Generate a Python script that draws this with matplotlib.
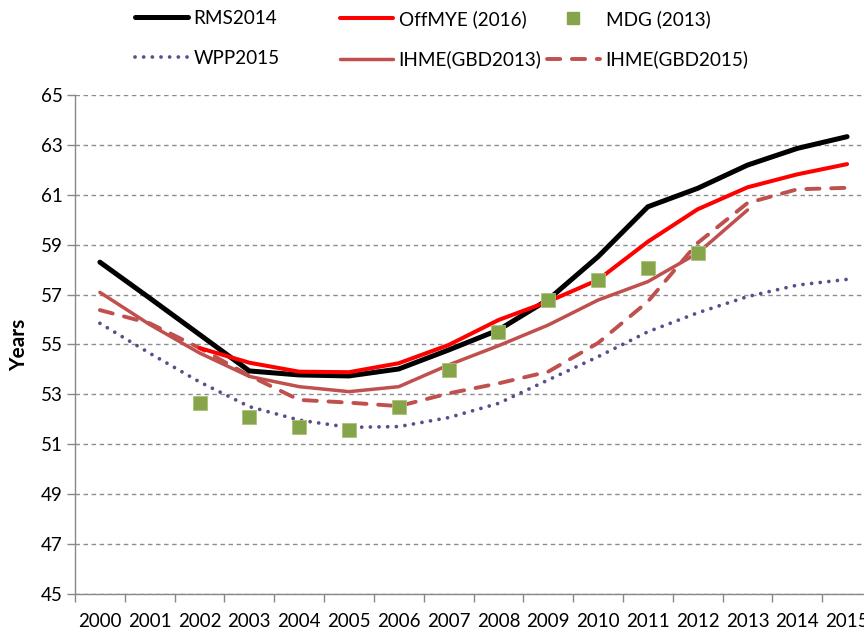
import matplotlib
matplotlib.use("Agg")
import matplotlib.pyplot as plt
from matplotlib.lines import Line2D

plt.rcParams['font.family'] = ['Lato', 'DejaVu Sans']

years = [str(y) for y in range(2000, 2016)]
rms2014 = [58.3, 56.86, 55.4, 53.94, 53.78, 53.74, 54.02, 54.78, 55.58, 56.8, 58.52, 60.52, 61.26, 62.19, 62.86, 63.33]
offmye_years = list(range(2, 16))
offmye = [54.86, 54.27, 53.91, 53.89, 54.25, 54.98, 55.98, 56.72, 57.59, 59.12, 60.42, 61.30, 61.82, 62.23]
mdg_years = list(range(2, 13))
mdg = [52.67, 52.08, 51.70, 51.57, 52.48, 53.98, 55.49, 56.78, 57.59, 58.08, 58.68]
wpp2015 = [55.85, 54.65, 53.5, 52.51, 51.97, 51.68, 51.71, 52.07, 52.64, 53.58, 54.51, 55.51, 56.27, 56.92, 57.38, 57.61]
gbd2013_years = list(range(0, 14))
gbd2013 = [57.09, 55.8, 54.66, 53.72, 53.31, 53.11, 53.31, 54.18, 54.95, 55.78, 56.78, 57.52, 58.66, 60.39]
gbd2015 = [56.38, 55.85, 54.86, 53.75, 52.78, 52.67, 52.53, 53.04, 53.44, 53.91, 55.06, 56.72, 59.07, 60.67, 61.22, 61.28]

x_all = list(range(len(years)))

fig = plt.figure(figsize=(8.64, 6.32), dpi=100)
ax = fig.add_axes([75/864, 38/632, 797/864, 499/632])

c_ihme = '#C0504D'
c_wpp = '#5F4B8B'
c_mdg = '#86A44A'
dot_style = (0, (0.01, 2.3))
dash_style = (0, (3.4, 3.0))

ax.plot(x_all, wpp2015, color=c_wpp, lw=2.7, linestyle=dot_style, dash_capstyle='round', zorder=3)
ax.plot(x_all, gbd2015, color=c_ihme, lw=2.8, linestyle=dash_style, dash_capstyle='round', zorder=3)
ax.plot(gbd2013_years, gbd2013, color=c_ihme, lw=2.5, zorder=4, solid_capstyle='round')
ax.plot(x_all, rms2014, color='black', lw=3.6, zorder=5, solid_capstyle='round')
ax.plot(offmye_years, offmye, color='#FF0000', lw=2.9, zorder=6, solid_capstyle='round')
ax.plot(mdg_years, mdg, linestyle='none', marker='s', markersize=10, color=c_mdg,
        markeredgecolor='#A9C27A', markeredgewidth=0.6, zorder=7)

ax.set_xlim(-0.5, 15.5)
ax.set_ylim(45, 65)
ax.set_yticks(range(45, 66, 2))
ax.set_xticks(x_all)
ax.set_xticklabels(years)
ax.set_xticks([i - 0.5 for i in range(17)], minor=True)
ax.tick_params(axis='x', which='major', length=0, pad=14, labelsize=13.5)
ax.tick_params(axis='x', which='minor', length=6, color='#888888', width=1)
ax.tick_params(axis='y', length=6, color='#888888', width=1, labelsize=13.5, pad=3)

ax.grid(axis='y', color='#8C8C8C', linestyle=(0, (3.2, 2.6)), lw=1.0)
ax.set_axisbelow(True)
for s in ['top', 'right']:
    ax.spines[s].set_visible(False)
for s in ['left', 'bottom']:
    ax.spines[s].set_color('#888888')
    ax.spines[s].set_linewidth(1.0)

ax.set_ylabel('Years', fontsize=15, fontweight='bold', labelpad=8)

h_rms = Line2D([], [], color='black', lw=3.6, solid_capstyle='round')
h_wpp = Line2D([], [], color=c_wpp, lw=2.7, linestyle=dot_style, dash_capstyle='round')
h_off = Line2D([], [], color='#FF0000', lw=2.9, solid_capstyle='round')
h_g13 = Line2D([], [], color=c_ihme, lw=2.5, solid_capstyle='round')
h_mdg = Line2D([], [], linestyle='none', marker='s', markersize=8, color=c_mdg)
h_g15 = Line2D([], [], color=c_ihme, lw=2.8, linestyle=dash_style, dash_capstyle='round')

leg_fs = 13.6
cols = [
    ([h_rms, h_wpp], ['RMS2014', 'WPP2015'], 135),
    ([h_off, h_g13], ['OffMYE (2016)', 'IHME(GBD2013)'], 340),
    ([h_mdg, h_g15], ['MDG (2013)', 'IHME(GBD2015)'], 547),
]
for hs, ls, x0 in cols:
    fig.legend(hs, ls, loc='upper left', bbox_to_anchor=(x0/864, 1 - 10/632),
               frameon=False, fontsize=leg_fs, handlelength=2.8, handletextpad=0.3,
               labelspacing=1.2, borderpad=0, borderaxespad=0)

fig.savefig('out.png', dpi=100)
